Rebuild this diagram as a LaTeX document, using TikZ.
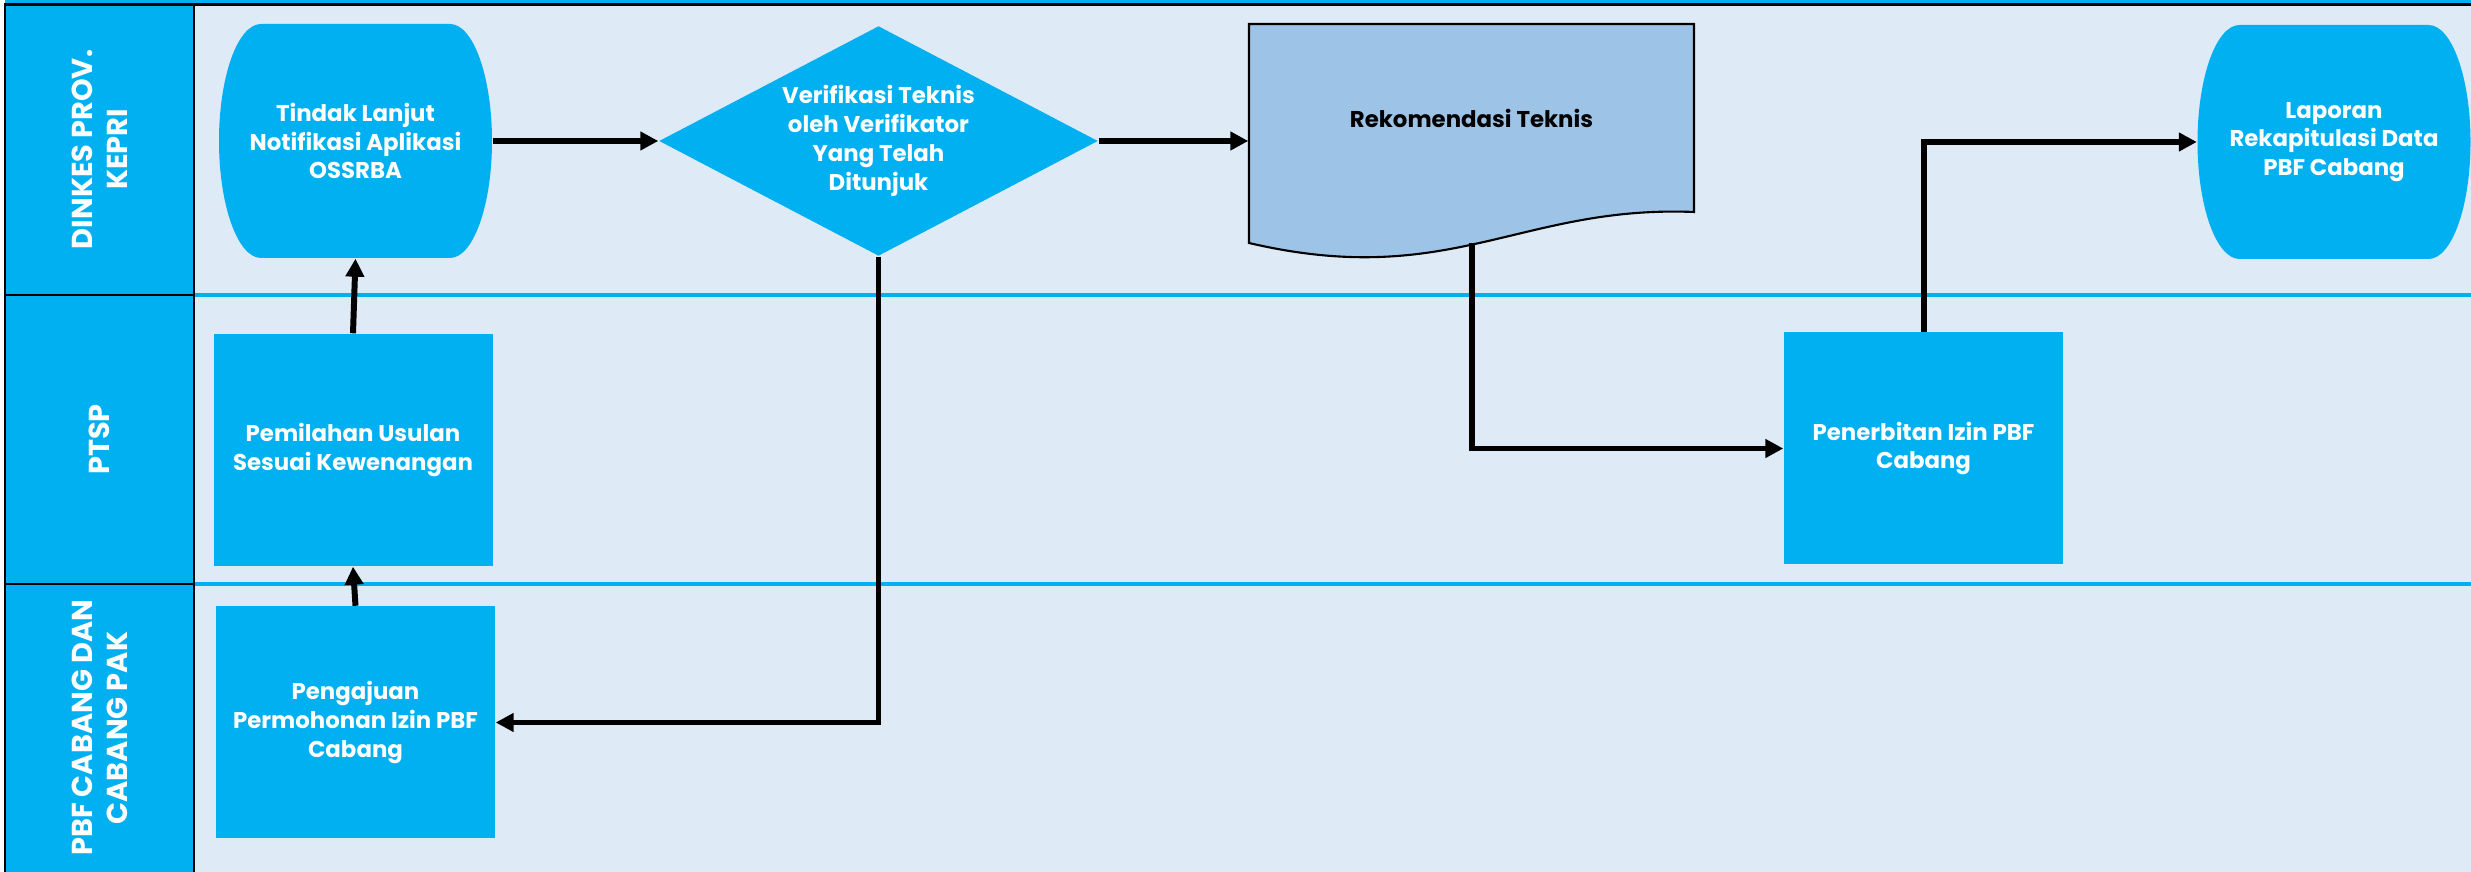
\documentclass[tikz,border=0pt]{standalone}
\usepackage{fontspec}
\setmainfont{Poppins}
\usetikzlibrary{positioning,shapes.geometric,arrows.meta,calc}
\definecolor{hdrblue}{HTML}{00B0F0}
\definecolor{lanebg}{HTML}{DEEBF7}
\definecolor{docblue}{HTML}{9DC3E6}

\begin{document}
\begin{tikzpicture}[
lanehead/.style={
    rotate=90,
    fill=hdrblue,
    text=white,
    align=center,
    inner sep=0,
    minimum height=1.89cm,
    font=\fontsize{8.2}{10}\selectfont\bfseries
    },
rec/.style={
    rectangle,
    fill=hdrblue,
    text=white,
    align=center,
    inner sep=0,
    minimum width=2.79cm,
    minimum height=2.32cm,
    font=\fontsize{6.5}{8.2}\selectfont\bfseries
    },
capsule/.style={
    rec,
    fill=lanebg,
    minimum width=2.73cm,
    minimum height=2.34cm,
    path picture={\fill[hdrblue] ($(path picture bounding box.north west)+(0.42,0)$) -- ($(path picture bounding box.north east)+(-0.42,0)$) arc[start angle=90,end angle=-90,x radius=0.42cm,y radius=1.17cm] -- ($(path picture bounding box.south west)+(0.42,0)$) arc[start angle=270,end angle=90,x radius=0.42cm,y radius=1.17cm] -- cycle;}
    },
decision/.style={
    rec,
    diamond,
    aspect=1.91,
    minimum width=4.39cm,
    minimum height=2.30cm
    },
docnode/.style={
    rec,
    fill=none,
    text=black,
    minimum width=4.45cm,
    minimum height=1.88cm
    },
conn/.style={
    line width=1.7pt,
    -{Triangle[length=0.18cm,width=0.18cm]}
    }
]
\useasboundingbox (0,0) rectangle (24.71,8.72);
\fill[lanebg] (1.94,0) rectangle (24.71,8.675);
\fill[hdrblue] (0.05,8.69) rectangle (24.71,8.72);
\node(hdinkes) [lanehead,minimum width=2.90cm] at (0.995,7.225) {DINKES PROV.\\ KEPRI};
\node(hptsp) [lanehead,minimum width=2.89cm] at (0.995,4.325) {PTSP};
\node(hpbf) [lanehead,minimum width=2.88cm] at (0.995,1.44) {PBF CABANG DAN\\ CABANG PAK};
\draw[hdrblue,line width=0.9pt] (1.94,5.77) -- (24.71,5.77);
\draw[hdrblue,line width=0.9pt] (1.94,2.88) -- (24.71,2.88);
\draw[line width=0.8pt] (0.05,0) -- (0.05,8.675) -- (24.71,8.675);
\draw[line width=0.8pt] (1.94,0) -- (1.94,8.675);
\draw[line width=0.8pt] (0.05,5.77) -- (1.94,5.77);
\draw[line width=0.8pt] (0.05,2.88) -- (1.94,2.88);

\node(tindak) [capsule] at (3.555,7.31) {Tindak Lanjut\\ Notifikasi Aplikasi\\ OSSRBA};
\node(verif) [decision] at (8.785,7.31) {Verifikasi Teknis\\ oleh Verifikator\\ Yang Telah\\ Ditunjuk};
\draw[fill=docblue,line width=0.6pt] (12.49,8.48) -- ++(4.45,0) -- ++(0,-1.88) .. controls +(-1.74,0.07) and +(2.01,-0.47) .. (12.49,6.29) -- cycle;
\node(rekom) [docnode] at (14.715,7.54) {Rekomendasi Teknis};
\node(laporan) [capsule] at (23.34,7.30) {Laporan\\ Rekapitulasi Data\\ PBF Cabang};
\node(pemilahan) [rec] at (3.53,4.22) {Pemilahan Usulan\\ Sesuai Kewenangan};
\node(penerbitan) [rec] at (19.235,4.235) {Penerbitan Izin PBF\\ Cabang};
\node(pengajuan) [rec] at (3.555,1.495) {Pengajuan\\ Permohonan Izin PBF\\ Cabang};

\draw[conn] (tindak.east) -- (verif.west);
\draw[conn] (verif.east) -- (verif.east -| rekom.west);
\draw[conn] ([yshift=-0.3cm]rekom.south) |- (penerbitan.west);
\draw[conn] (penerbitan.north) |- (laporan.west);
\draw[conn] (verif.south) |- (pengajuan.east);
\draw[conn] (pengajuan.north) -- (pemilahan.south);
\draw[conn] (pemilahan.north) -- (tindak.south);
\end{tikzpicture}
\end{document}
